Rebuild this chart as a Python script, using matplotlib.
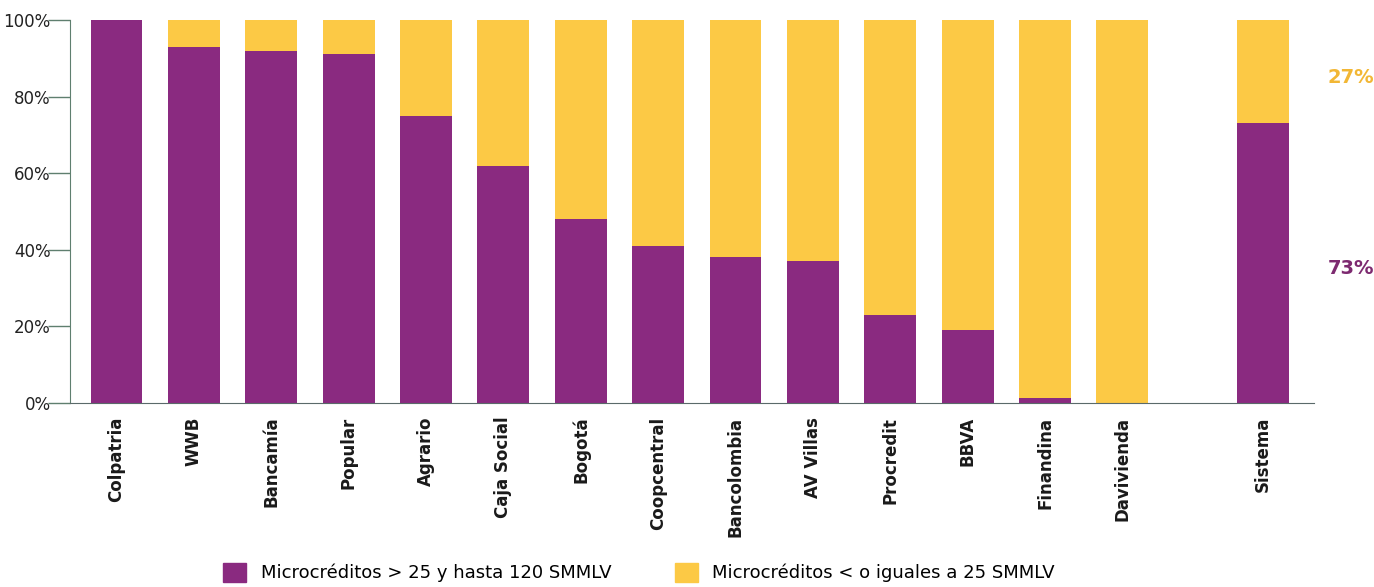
import matplotlib.pyplot as plt
import matplotlib.patches as mpatches
import numpy as np

# data
banks = ['Colpatria', 'WWB', 'Bancamía', 'Popular', 'Agrario', 'Caja Social',
         'Bogotá', 'Coopcentral', 'Bancolombia', 'AV Villas', 'Procredit',
         'BBVA', 'Finandina', 'Davivienda', 'Sistema']
over25 = [100, 93, 92, 91, 75, 62, 48, 41, 38, 37, 23, 19, 1.3, 0, 73]
upto25 = [100 - v for v in over25]
yticks = [0, 20, 40, 60, 80, 100]

PURPLE = '#8a2a80'
YELLOW = '#fcc945'

plt.rcParams['font.family'] = ['DejaVu Sans']

fig = plt.figure(figsize=(13.74, 5.87), dpi=100)
ax = fig.add_axes([0.051, 0.3135, 0.905, 0.6525])

x = np.append(np.arange(len(banks) - 1), len(banks) - 1 + 0.82)
width = 0.67
ax.bar(x, over25, width=width, color=PURPLE, zorder=2)
ax.bar(x, upto25, width=width, bottom=over25, color=YELLOW, zorder=2)

ax.set_xlim(-0.6, 15.47)
ax.set_ylim(0, 100)
ax.set_yticks(yticks)
ax.set_yticklabels([f'{t}%' for t in yticks], fontsize=12, color='#222222')
ax.tick_params(axis='y', length=16, width=1, color='#5f7f6f', pad=-2)
ax.set_xticks(x)
ax.set_xticklabels(banks, rotation=90, fontsize=12, fontweight='bold', color='#1a1a1a')
ax.tick_params(axis='x', length=0, pad=10)

for s in ['top', 'right']:
    ax.spines[s].set_visible(False)
ax.spines['left'].set_color('#5f7f6f')
ax.spines['bottom'].set_color('#5a6a6a')

# labels for Sistema
last = len(banks) - 1
ax.text(15.95, over25[last] + upto25[last] / 2 - 1.5, f'{upto25[last]}%', color='#f2b735',
        fontsize=14, fontweight='bold', ha='center', va='center', clip_on=False)
ax.text(15.95, over25[last] / 2 - 1.5, f'{over25[last]}%', color='#7d2a70',
        fontsize=14, fontweight='bold', ha='center', va='center', clip_on=False)

handles = [mpatches.Patch(color=PURPLE, label='Microcréditos > 25 y hasta 120 SMMLV'),
           mpatches.Patch(color=YELLOW, label='Microcréditos < o iguales a 25 SMMLV')]
fig.legend(handles=handles, loc='lower center', bbox_to_anchor=(0.465, -0.02), ncol=2,
           frameon=False, fontsize=13, handlelength=1.3, handleheight=1.3,
           columnspacing=3.5, handletextpad=0.8)

fig.savefig('out.png', dpi=100)
